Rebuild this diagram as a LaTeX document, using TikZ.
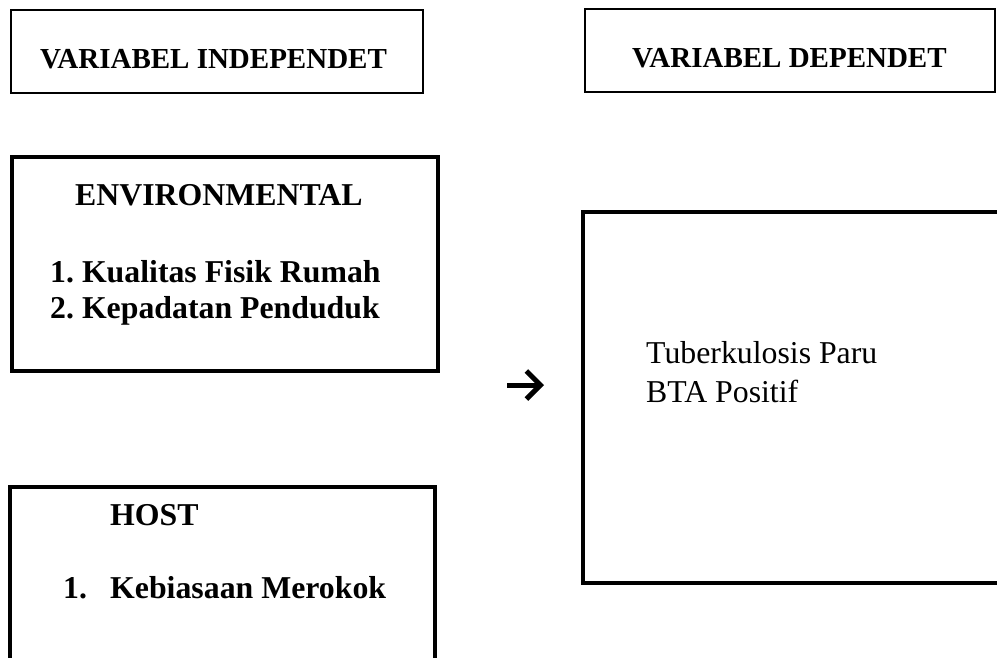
\documentclass[tikz,border=0pt]{standalone}
\usepackage{fontspec}
\setmainfont{Liberation Serif}
\usepackage{tikz}
\usetikzlibrary{arrows.meta}

\tikzset{
  thinbox/.style={draw, line width=1.3pt, inner sep=0pt},
  thickbox/.style={draw, line width=4pt, inner sep=0pt},
  headtext/.style={anchor=base west, inner sep=0pt, font=\fontsize{29}{34}\selectfont\bfseries},
  boldtext/.style={anchor=base west, inner sep=0pt, font=\fontsize{31.8}{37}\selectfont\bfseries},
  plaintext/.style={anchor=base west, inner sep=0pt, font=\fontsize{31.8}{37}\selectfont}
}

\begin{document}
\frenchspacing
\begin{tikzpicture}[x=1pt, y=-1pt]
        \clip (0, 0) rectangle (997, 657);
        % header boxes
        \node[thinbox, minimum width=412, minimum height=83] (indep) at (217, 51.5) {};
        \node[thinbox, minimum width=410, minimum height=83] (dep) at (790, 50.5) {};
        \node[headtext] (indeplbl) at (40, 68) {VARIABEL INDEPENDET};
        \node[headtext] (deplbl) at (632, 67) {VARIABEL DEPENDET};
        % environmental
        \node[thickbox, minimum width=426, minimum height=214] (env) at (225, 264) {};
        \node[boldtext] (envlbl) at (75, 205) {ENVIRONMENTAL};
        \node[boldtext] (env1) at (50, 282) {1. Kualitas Fisik Rumah};
        \node[boldtext] (env2) at (50, 318) {2. Kepadatan Penduduk};
        % host
        \node[thickbox, minimum width=425, minimum height=200] (host) at (222.5, 587) {};
        \node[boldtext] (hostlbl) at (110, 525) {HOST};
        \node[boldtext] (host1num) at (63, 598) {1.};
        \node[boldtext] (host1) at (110, 598) {Kebiasaan Merokok};
        % outcome
        \node[thickbox, line width=4.5pt, minimum width=450, minimum height=371] (tb) at (808, 397.5) {};
        \node[plaintext] (tb1) at (646, 363) {Tuberkulosis Paru};
        \node[plaintext] (tb2) at (646, 402) {BTA Positif};
        % arrow
        \coordinate (arrs) at (507, 385);
        \coordinate (arre) at (544, 385);
        \draw[line width=5pt, -{Straight Barb[length=14pt, width=28pt, line width=5pt]}] (arrs) -- (arre);
      \end{tikzpicture}
\end{document}
